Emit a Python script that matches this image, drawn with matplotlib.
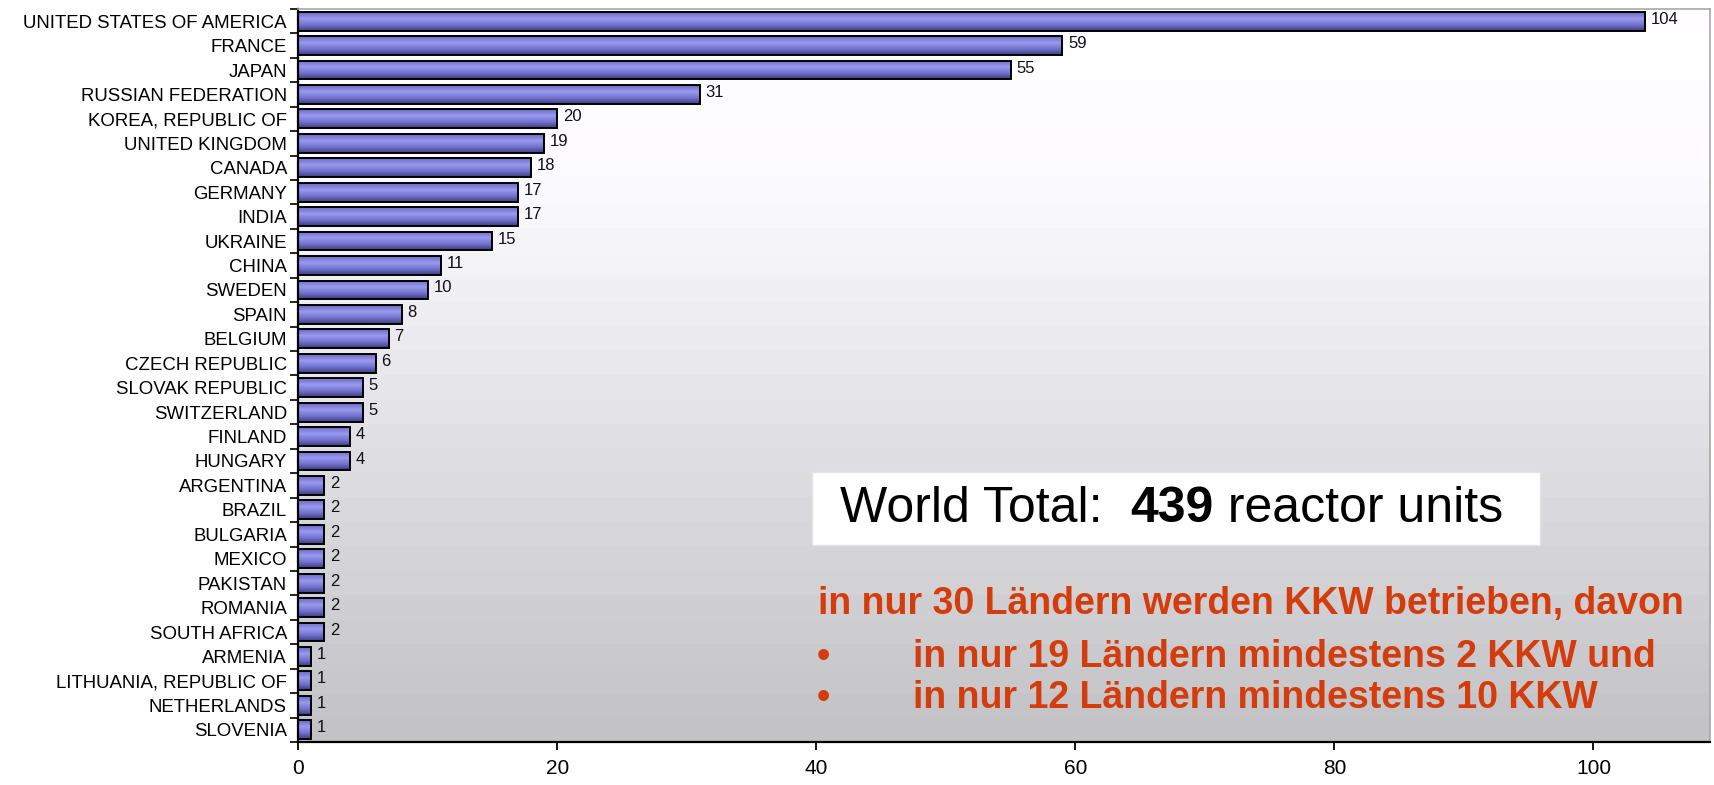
import numpy as np
import matplotlib
matplotlib.use("Agg")
import matplotlib.pyplot as plt
from matplotlib.colors import LinearSegmentedColormap

countries = ["UNITED STATES OF AMERICA", "FRANCE", "JAPAN", "RUSSIAN FEDERATION",
             "KOREA, REPUBLIC OF", "UNITED KINGDOM", "CANADA", "GERMANY", "INDIA",
             "UKRAINE", "CHINA", "SWEDEN", "SPAIN", "BELGIUM", "CZECH REPUBLIC",
             "SLOVAK REPUBLIC", "SWITZERLAND", "FINLAND", "HUNGARY", "ARGENTINA",
             "BRAZIL", "BULGARIA", "MEXICO", "PAKISTAN", "ROMANIA", "SOUTH AFRICA",
             "ARMENIA", "LITHUANIA, REPUBLIC OF", "NETHERLANDS", "SLOVENIA"]
reactors = [104, 59, 55, 31, 20, 19, 18, 17, 17, 15, 11, 10, 8, 7, 6, 5, 5, 4, 4,
            2, 2, 2, 2, 2, 2, 2, 1, 1, 1, 1]
xticks = [0, 20, 40, 60, 80, 100]

total_text_a = "World Total:  "
total_text_b = "439"
total_text_c = " reactor units"
note_lines = ["in nur 30 Ländern werden KKW betrieben, davon",
              "in nur 19 Ländern mindestens 2 KKW und",
              "in nur 12 Ländern mindestens 10 KKW"]

plt.rcParams['font.family'] = ['Liberation Sans', 'DejaVu Sans']

fig = plt.figure(figsize=(17.15, 7.85), dpi=100)
ax = fig.add_axes([0.1738, 0.0548, 0.8233, 0.9338])

n = len(countries)
ypos = np.arange(n)
XMAX = 109.0

# stepped background gradient
rows = n
vals = []
for i in range(rows):
    t = i / (rows - 1)
    if t < 0.22:
        v = 1.0 - 0.01 * t / 0.22
    else:
        v = 0.99 - (0.99 - 0.765) * (t - 0.22) / 0.78
    vals.append(v)
vals = np.array(vals)
bg = np.zeros((rows, 1, 3))
bg[:, 0, 0] = vals
bg[:, 0, 1] = vals - 0.004
bg[:, 0, 2] = vals + 0.01
bg = np.clip(bg, 0, 1)
ax.imshow(bg, extent=[0, XMAX, n - 0.5, -0.5], aspect='auto', zorder=0,
          interpolation='nearest')

bar_h = 0.77
bars = ax.barh(ypos, reactors, height=bar_h, color='none', edgecolor='black',
               linewidth=1.4, zorder=3)
cmap = LinearSegmentedColormap.from_list(
    'bar', [(0.0, '#6a6ac2'), (0.35, '#9a9af0'), (0.7, '#7070cc'), (1.0, '#3c3c7c')])
grad = np.linspace(0, 1, 64).reshape(-1, 1)
for b, y, v in zip(bars, ypos, reactors):
    im = ax.imshow(grad, cmap=cmap, extent=[0, v, y + bar_h / 2, y - bar_h / 2],
                   aspect='auto', zorder=2, interpolation='bilinear')
    im.set_clip_path(b)
    ax.text(v + 0.45, y - 0.08, str(v), va='center', ha='left', fontsize=12,
            color='#111111', zorder=4)

ax.set_xlim(0, XMAX)
ax.set_ylim(n - 0.5, -0.5)
ax.set_yticks(ypos)
ax.set_yticklabels(countries, fontsize=13.4)
ax.set_yticks(np.arange(n + 1) - 0.5, minor=True)
ax.tick_params(axis='y', which='major', length=0, pad=8)
ax.tick_params(axis='y', which='minor', length=6, width=1.2, color='black')
ax.set_xticks(xticks)
ax.set_xticklabels([str(x) for x in xticks], fontsize=15)
ax.tick_params(axis='x', length=6, width=1.3, pad=6)
for s in ['top', 'right']:
    ax.spines[s].set_color('#a8a8a8')
    ax.spines[s].set_linewidth(1.2)
for s in ['left', 'bottom']:
    ax.spines[s].set_color('black')
    ax.spines[s].set_linewidth(1.6)
ax.set_facecolor('white')

# World total box
ax.add_patch(plt.Rectangle((0.364, 0.2688), 0.5156, 0.0996, transform=ax.transAxes,
                           facecolor='white', edgecolor='#e4e4e4', zorder=5))
fs_total = 36
ty = 0.300
ta = ax.text(0.3839, ty, total_text_a, transform=ax.transAxes, fontsize=fs_total,
             va='baseline', ha='left', zorder=6)
fig.canvas.draw()
r = fig.canvas.get_renderer()
bb = ta.get_window_extent(r).transformed(ax.transAxes.inverted())
tb = ax.text(bb.x1, ty, total_text_b, transform=ax.transAxes, fontsize=fs_total,
             fontweight='bold', va='baseline', ha='left', zorder=6)
bb2 = tb.get_window_extent(r).transformed(ax.transAxes.inverted())
ax.text(bb2.x1, ty, total_text_c, transform=ax.transAxes, fontsize=fs_total,
        va='baseline', ha='left', zorder=6)

red = '#d43c0c'
fs_note = 27
ax.text(0.368, 0.1745, note_lines[0], transform=ax.transAxes, fontsize=fs_note,
        fontweight='bold', color=red, va='baseline', ha='left', zorder=6)
for yy, line in zip([0.1025, 0.0464], note_lines[1:]):
    ax.text(0.3672, yy, "•", transform=ax.transAxes, fontsize=fs_note,
            fontweight='bold', color=red, va='baseline', ha='left', zorder=6)
    ax.text(0.4356, yy, line, transform=ax.transAxes, fontsize=fs_note,
            fontweight='bold', color=red, va='baseline', ha='left', zorder=6)

fig.savefig("out.png", dpi=100, facecolor='white')
